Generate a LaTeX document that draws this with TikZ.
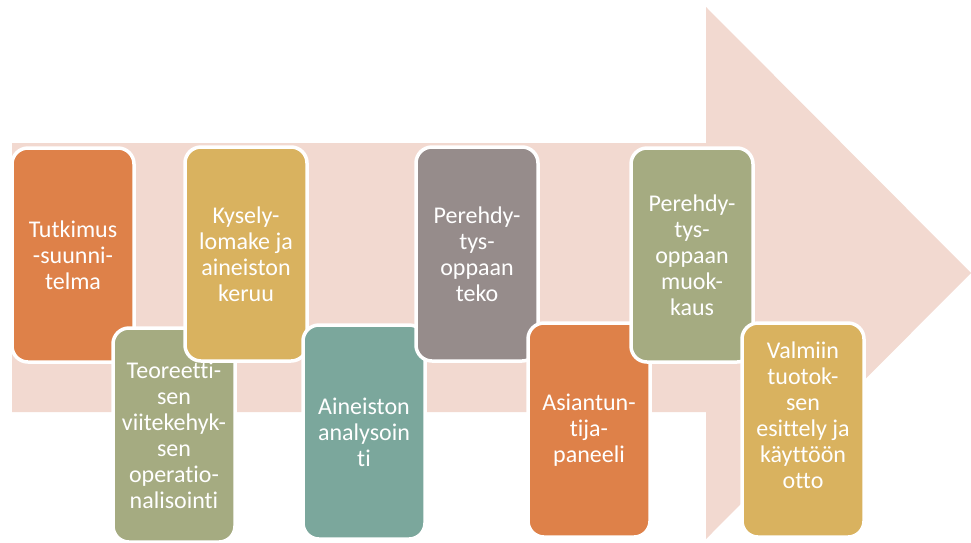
\documentclass[tikz,border=0pt]{standalone}
\usepackage{fontspec}
\setmainfont{Carlito}[Ligatures={NoCommon}]
\usepackage{tikz}
\definecolor{arrowpink}{HTML}{F2D9D0}
\definecolor{phorange}{HTML}{DE8149}
\definecolor{phgreen}{HTML}{A5AB81}
\definecolor{phyellow}{HTML}{D9B25F}
\definecolor{phteal}{HTML}{7BA79C}
\definecolor{phgray}{HTML}{968C8B}
\tikzset{
    stage/.style={draw=white, line width=3.5pt, rounded corners=16pt, inner sep=0pt,
        minimum width=122pt, minimum height=214pt, align=center, text=white,
        font=\fontsize{24}{26}\selectfont}, % one box of the process
    process arrow/.style={fill=arrowpink} % the big arrow behind the boxes
}

\begin{document}
\begin{tikzpicture}[x=1pt, y=-1pt]
            \useasboundingbox (0,0) rectangle (971,542);
            \def\shafttop{143} \def\shaftbot{412} \def\headx{706}

            \fill[process arrow] (12,\shafttop) -- (\headx,\shafttop) -- (\headx,7) -- (971,273)
                -- (\headx,539) -- (\headx,\shaftbot) -- (12,\shaftbot) -- cycle;

            \node[stage, fill=phorange] (tutkimus) at (73,255) {Tutkimus\\-suunni-\\telma};
            \node[stage, fill=phgreen]  (teoria)   at (174,435) {Teoreetti-\\sen\\viitekehyk-\\sen\\operatio-\\nalisointi};
            \node[stage, fill=phyellow] (kysely)   at (246,254) {Kysely-\\lomake ja\\aineiston\\keruu};
            \node[stage, fill=phteal]   (analyysi) at (364,432) {Aineiston\\analysoin\\ti};
            \node[stage, fill=phgray]   (teko)     at (477,254) {Perehdy-\\tys-\\oppaan\\teko};
            \node[stage, fill=phorange] (paneeli)  at (589,430) {Asiantun-\\tija-\\paneeli};
            \node[stage, fill=phgreen]  (muokkaus) at (692,255) {Perehdy-\\tys-\\oppaan\\muok-\\kaus};
            \node[stage, fill=phyellow, text depth=30pt] (kaytto) at (803,430) {Valmiin\\tuotok-\\sen\\esittely ja\\käyttöön\\otto};
        \end{tikzpicture}
\end{document}
